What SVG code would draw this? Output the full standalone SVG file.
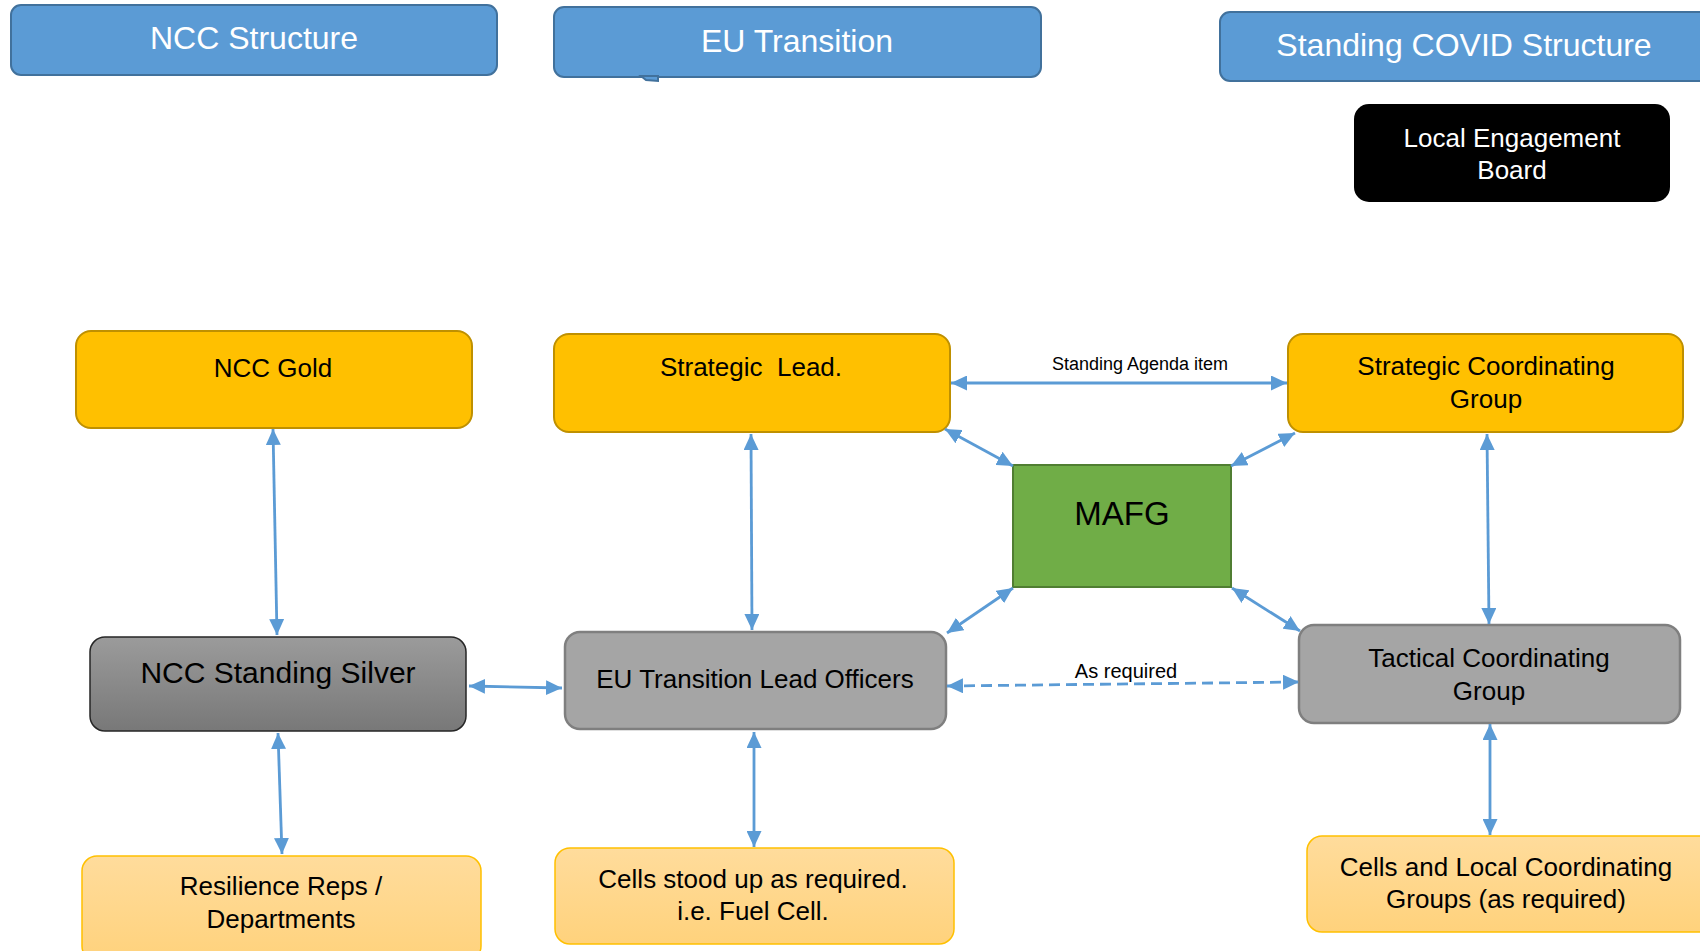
<svg xmlns="http://www.w3.org/2000/svg" width="1700" height="951" viewBox="0 0 1700 951">
<style>
text{font-family:"Liberation Sans",Arial,sans-serif;text-anchor:middle;fill:#000}
.hdr rect,.hdr polygon{fill:#5B9BD5;stroke:#41719C;stroke-width:2}
.hdr text{fill:#fff;font-size:32px}
.gold rect{fill:#FFC000;stroke:#BF9000;stroke-width:2}
.lite rect{fill:url(#lite);stroke:#FFC000;stroke-width:1.5}
.grey rect{fill:#A5A5A5;stroke:#7F7F7F;stroke-width:2.5}
.t26{font-size:26px}
.conn{stroke:#5B9BD5;stroke-width:2.8;fill:none;marker-start:url(#ah);marker-end:url(#ah)}
.lbl{font-size:18px}
</style>
<defs>
<marker id="ah" markerUnits="userSpaceOnUse" markerWidth="17" markerHeight="15" refX="16" refY="7.5" orient="auto-start-reverse">
<path d="M0,0 L16,7.5 L0,15 z" fill="#5B9BD5"/>
</marker>
<linearGradient id="lite" x1="0" y1="0" x2="0" y2="1">
<stop offset="0" stop-color="#FFDC9C"/>
<stop offset="1" stop-color="#FFD27C"/>
</linearGradient>
<linearGradient id="silver" x1="0" y1="0" x2="0" y2="1">
<stop offset="0" stop-color="#9B9B9B"/>
<stop offset="1" stop-color="#787878"/>
</linearGradient>
</defs>
<rect width="1700" height="951" fill="#fff"/>

<g id="hdr-ncc" class="hdr">
<rect x="11" y="5" width="486" height="70" rx="10"/>
<text x="254" y="49">NCC Structure</text>
</g>
<g id="hdr-eu" class="hdr">
<rect x="554" y="7" width="487" height="70" rx="10"/>
<polygon points="641,76 658,76 658,81 646,80" stroke="none"/>
<text x="797" y="52">EU Transition</text>
</g>
<g id="hdr-covid" class="hdr">
<rect x="1220" y="12" width="500" height="69" rx="10"/>
<text x="1464" y="56">Standing COVID Structure</text>
</g>
<g id="leb">
<rect x="1354" y="104" width="316" height="98" rx="15" fill="#000"/>
<text class="t26" x="1512" y="147" style="fill:#fff">Local Engagement</text>
<text class="t26" x="1512" y="179" style="fill:#fff">Board</text>
</g>

<g id="ncc-gold" class="gold">
<rect x="76" y="331" width="396" height="97" rx="15"/>
<text class="t26" x="273" y="377">NCC Gold</text>
</g>
<g id="strategic-lead" class="gold">
<rect x="554" y="334" width="396" height="98" rx="15"/>
<text class="t26" x="751" y="376" xml:space="preserve">Strategic  Lead.</text>
</g>
<g id="scg" class="gold">
<rect x="1288" y="334" width="395" height="98" rx="15"/>
<text class="t26" x="1486" y="375">Strategic Coordinating</text>
<text class="t26" x="1486" y="408">Group</text>
</g>
<g id="mafg">
<rect x="1013" y="465" width="218" height="122" fill="#70AD47" stroke="#507E32" stroke-width="2"/>
<text x="1122" y="525" style="font-size:33px">MAFG</text>
</g>
<g id="ncc-silver">
<rect x="90" y="637" width="376" height="94" rx="15" fill="url(#silver)" stroke="#262626" stroke-width="1.5"/>
<text x="278" y="683" style="font-size:30px">NCC Standing Silver</text>
</g>
<g id="eu-tlo" class="grey">
<rect x="565" y="632" width="381" height="97" rx="15"/>
<text class="t26" x="755" y="688">EU Transition Lead Officers</text>
</g>
<g id="tcg" class="grey">
<rect x="1299" y="625" width="381" height="98" rx="15"/>
<text class="t26" x="1489" y="667">Tactical Coordinating</text>
<text class="t26" x="1489" y="700">Group</text>
</g>
<g id="resilience" class="lite">
<rect x="82" y="856" width="399" height="105" rx="15"/>
<text class="t26" x="281" y="895">Resilience Reps /</text>
<text class="t26" x="281" y="928">Departments</text>
</g>
<g id="cells-eu" class="lite">
<rect x="555" y="848" width="399" height="96" rx="15"/>
<text class="t26" x="753" y="888">Cells stood up as required.</text>
<text class="t26" x="753" y="920">i.e. Fuel Cell.</text>
</g>
<g id="cells-local" class="lite">
<rect x="1307" y="836" width="410" height="96" rx="15"/>
<text class="t26" x="1506" y="876">Cells and Local Coordinating</text>
<text class="t26" x="1506" y="908">Groups (as required)</text>
</g>

<g id="connectors">
<line class="conn" x1="273" y1="429" x2="277" y2="635"/>
<line class="conn" x1="751" y1="434" x2="752" y2="630"/>
<line class="conn" x1="1487" y1="434" x2="1489" y2="624"/>
<line class="conn" x1="951" y1="383" x2="1287" y2="383"/>
<line class="conn" x1="945" y1="429" x2="1013" y2="466"/>
<line class="conn" x1="1295" y1="433" x2="1231" y2="466"/>
<line class="conn" x1="1013" y1="588" x2="947" y2="633"/>
<line class="conn" x1="1232" y1="588" x2="1300" y2="631"/>
<line class="conn" x1="469" y1="686" x2="562" y2="688"/>
<line class="conn" x1="947" y1="686" x2="1299" y2="682" stroke-dasharray="11,6"/>
<line class="conn" x1="278" y1="733" x2="282" y2="854"/>
<line class="conn" x1="754" y1="732" x2="754" y2="847"/>
<line class="conn" x1="1490" y1="724" x2="1490" y2="835"/>
<text class="lbl" x="1140" y="370">Standing Agenda item</text>
<text x="1126" y="678" style="font-size:20px">As required</text>
</g>
</svg>
